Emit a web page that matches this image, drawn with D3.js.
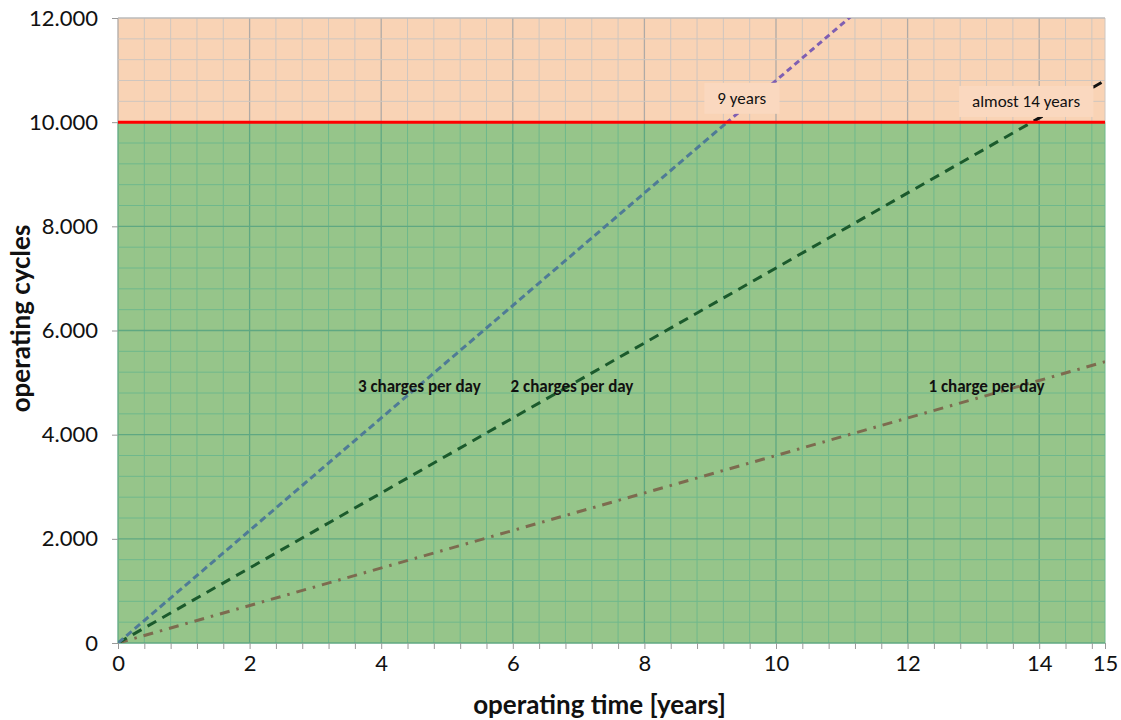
<!DOCTYPE html>
<html><head><meta charset="utf-8">
<script src="https://cdn.jsdelivr.net/npm/d3@7"></script>
<style>body{margin:0;background:#fff}svg{display:block}</style>
</head><body><svg id="c" width="1121" height="720"></svg>
<script>
const years = [0, 15];
const oneChargePerDay = [0, 5400];
const twoChargesPerDay = [0, 10800];
const threeChargesPerDay = [0, 16200];
const cycleLimit = 10000;
const yTicks = [0, 2000, 4000, 6000, 8000, 10000, 12000];
const xTickLabels = [0, 2, 4, 6, 8, 10, 12, 14, 15];
const seriesLabels = ["1 charge per day", "2 charges per day", "3 charges per day"];
const limitLabels = ["9 years", "almost 14 years"];

const W = 1121, H = 720, m = {l:118, r:16, t:18, b:77};
const svg = d3.select("#c");
const x = d3.scaleLinear().domain([0, 15]).range([m.l, W - m.r]);
const y = d3.scaleLinear().domain([0, 12000]).range([H - m.b, m.t]);
const font = "Lato, 'Open Sans', sans-serif";

// backgrounds
svg.append("rect").attr("x", x(0)).attr("y", y(12000)).attr("width", x(15) - x(0)).attr("height", y(cycleLimit) - y(12000)).attr("fill", "#f9d3b5");
svg.append("rect").attr("x", x(0)).attr("y", y(cycleLimit)).attr("width", x(15) - x(0)).attr("height", y(0) - y(cycleLimit)).attr("fill", "#96c58a");

// grid
const minorX = d3.range(0, 15.001, 0.4).concat([15]);
const minorY = d3.range(0, 12001, 400);
const grid = svg.append("g");
function gridColor(isMajor, upper){ return upper ? (isMajor ? "#b0aaa6" : "#cfc6bf") : (isMajor ? "#5fa882" : "#6fb88c"); }
minorX.forEach(v => {
  const major = Math.abs(v/2 - Math.round(v/2)) < 1e-6;
  grid.append("line").attr("x1", x(v)).attr("x2", x(v)).attr("y1", y(12000)).attr("y2", y(cycleLimit)).attr("stroke", gridColor(major, true)).attr("stroke-width", major ? 1.3 : 1);
  grid.append("line").attr("x1", x(v)).attr("x2", x(v)).attr("y1", y(cycleLimit)).attr("y2", y(0)).attr("stroke", gridColor(major, false)).attr("stroke-width", major ? 1.3 : 1);
});
minorY.forEach(v => {
  const major = v % 2000 === 0;
  const upper = v > cycleLimit;
  grid.append("line").attr("x1", x(0)).attr("x2", x(15)).attr("y1", y(v)).attr("y2", y(v)).attr("stroke", v >= 12000 ? "#bbbbbb" : gridColor(major, upper)).attr("stroke-width", major ? 1.3 : 1);
});

// clip paths
const defs = svg.append("defs");
defs.append("clipPath").attr("id", "below").append("rect").attr("x", x(0)).attr("y", y(cycleLimit)).attr("width", x(15) - x(0)).attr("height", y(0) - y(cycleLimit));
defs.append("clipPath").attr("id", "above").append("rect").attr("x", x(0)).attr("y", y(12000)).attr("width", x(15) - x(0) + 2).attr("height", y(cycleLimit) - y(12000));

const line = d3.line().x(d => x(d[0])).y(d => y(d[1]));
function draw(vals, clip, color, dash, w){
  svg.append("path").datum(years.map((v,i)=>[v, vals[i]])).attr("d", line)
    .attr("clip-path", `url(#${clip})`).attr("fill", "none").attr("stroke", color)
    .attr("stroke-width", w).attr("stroke-dasharray", dash);
}
draw(oneChargePerDay, "below", "#7d6b4f", "10,7,2.5,7", 3);
draw(twoChargesPerDay, "below", "#1b5a2c", "10,7", 3);
draw(threeChargesPerDay, "below", "#4f7b96", "7,4", 3);
draw(twoChargesPerDay, "above", "#111111", "10,7", 3);
draw(threeChargesPerDay, "above", "#7f5fb2", "6,4", 3);

// limit line
svg.append("line").attr("x1", x(0)).attr("x2", x(15)).attr("y1", y(cycleLimit)).attr("y2", y(cycleLimit)).attr("stroke", "#ff0000").attr("stroke-width", 3);

// limit labels with boxes
const limitPos = [[9.48, 10430], [13.8, 10370]];
limitLabels.forEach((t, i) => {
  const g = svg.append("g");
  const tx = g.append("text").attr("x", x(limitPos[i][0])).attr("y", y(limitPos[i][1])).attr("text-anchor", "middle").attr("dominant-baseline", "middle")
    .attr("font-family", "Calibri, Carlito, " + font).attr("font-size", 17).attr("fill", "#111").text(t);
  const bb = tx.node().getBBox();
  g.insert("rect", "text").attr("x", bb.x - 13).attr("y", bb.y - 5).attr("width", bb.width + 26).attr("height", bb.height + 10).attr("fill", "#fad8bf");
});

// series labels
const seriesPos = [[13.2, 4900], [6.9, 4900], [4.58, 4900]];
seriesLabels.forEach((t, i) => {
  svg.append("text").attr("x", x(seriesPos[i][0])).attr("y", y(seriesPos[i][1])).attr("text-anchor", "middle").attr("dominant-baseline", "middle")
    .attr("font-family", "Calibri, Carlito, " + font).attr("font-size", 17).attr("font-weight", "bold").attr("fill", "#111").text(t);
});

// axes
const fmt = d => d3.format(",")(d).replace(/,/g, ".");
const yAxis = svg.append("g").attr("transform", `translate(${x(0)},0)`)
  .call(d3.axisLeft(y).tickValues(yTicks).tickFormat(fmt).tickSize(6).tickPadding(14));
yAxis.select(".domain").remove();
yAxis.selectAll("line").attr("stroke", "#999");
yAxis.selectAll("text").attr("font-family", font).attr("font-size", 22).attr("fill", "#111");

const xAxisMinor = svg.append("g").attr("transform", `translate(0,${y(0)})`)
  .call(d3.axisBottom(x).tickValues(minorX).tickFormat("").tickSize(6));
xAxisMinor.select(".domain").remove();
xAxisMinor.selectAll("line").attr("stroke", "#999");
const xAxis = svg.append("g").attr("transform", `translate(0,${y(0)})`)
  .call(d3.axisBottom(x).tickValues(xTickLabels).tickFormat(d3.format("d")).tickSize(0).tickPadding(12));
xAxis.select(".domain").remove();
xAxis.selectAll("text").attr("font-family", font).attr("font-size", 22).attr("fill", "#111");

svg.append("text").attr("x", (x(0) + x(15)) / 2 - 12).attr("y", 714).attr("text-anchor", "middle")
  .attr("font-family", font).attr("font-size", 26).attr("font-weight", "bold").attr("fill", "#111").text("operating time [years]");
svg.append("text").attr("transform", `translate(30,${(y(0)+y(12000))/2 - 12}) rotate(-90)`).attr("text-anchor", "middle")
  .attr("font-family", font).attr("font-size", 26).attr("font-weight", "bold").attr("fill", "#111").text("operating cycles");
</script></body></html>
